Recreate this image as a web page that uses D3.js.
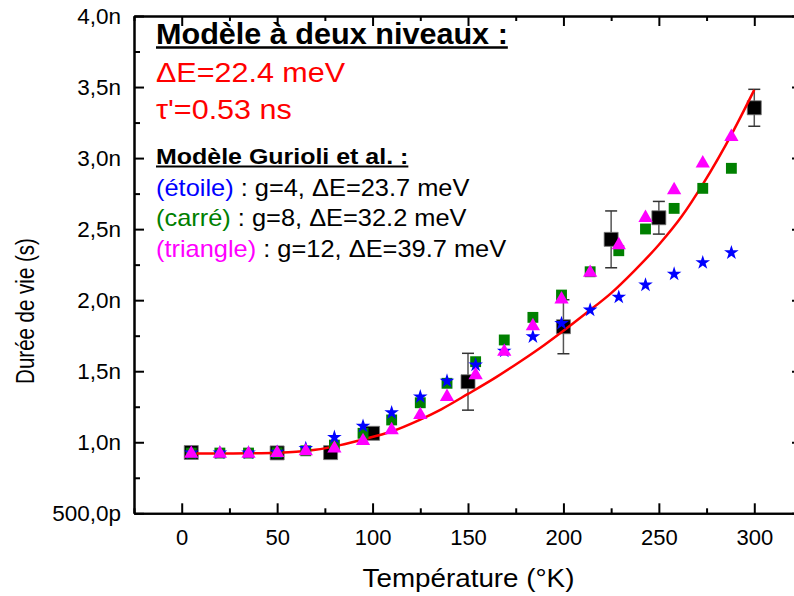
<!DOCTYPE html>
<html><head><meta charset="utf-8">
<script src="https://cdn.jsdelivr.net/npm/d3@7"></script>
<style>
body{margin:0;background:#fff}
svg{display:block}
text{font-family:"Liberation Sans",Arial,sans-serif}
</style>
</head><body>
<svg id="c" width="794" height="596"></svg>
<script>
// ---- data ----
const modelT = [5,20,35,50,65,80,95,110,125,139,154,169,184,199,214,229,243,258,273,288];
const starVals = [0.925,0.925,0.925,0.93,0.957,1.035,1.114,1.208,1.32,1.431,1.544,1.642,1.743,1.837,1.931,2.022,2.107,2.184,2.264,2.334];
const squareVals = [0.924,0.924,0.924,0.926,0.94,0.98,1.063,1.157,1.278,1.415,1.567,1.72,1.879,2.036,2.2,2.348,2.501,2.646,2.787,2.928];
const triangleVals = [0.92,0.92,0.92,0.925,0.937,0.957,1.009,1.086,1.192,1.32,1.473,1.637,1.818,2.006,2.193,2.388,2.58,2.775,2.963,3.15];
const expT = [5,50,78,100,150,200,225,250,300];
const expVals = [0.928,0.925,0.927,1.063,1.426,1.813,2.428,2.58,3.354];
const expErr = [0.02,0.02,0.02,0.03,0.2,0.19,0.2,0.115,0.13];
const fitT = [5,20,35,50,60,70,83,95,109.5,125,136,150,165,177,190,200,212,225,237,250,262,273,289,300];
const fitVals = [0.92,0.92,0.922,0.927,0.934,0.947,0.98,1.02,1.074,1.16,1.232,1.34,1.46,1.565,1.685,1.785,1.91,2.05,2.205,2.39,2.59,2.815,3.19,3.48];
const xTicks = [0,50,100,150,200,250,300];
const xMinor = [-25,25,75,125,175,225,275,325];
const yTicks = [0.5,1.0,1.5,2.0,2.5,3.0,3.5,4.0];
const yTickLabels = ["500,0p","1,0n","1,5n","2,0n","2,5n","3,0n","3,5n","4,0n"];
const yMinor = [0.75,1.25,1.75,2.25,2.75,3.25,3.75];

const svg = d3.select("#c");
const x = d3.scaleLinear([-25,325],[134,802]);
const y = d3.scaleLinear([0.5,4.0],[513.3,16]);

function styleAxis(g){
  g.selectAll("path.domain").attr("stroke","#000").attr("stroke-width",2);
  g.selectAll(".tick line").attr("stroke","#000").attr("stroke-width",2);
}
// bottom
svg.append("g").attr("transform","translate(0,513.3)")
  .call(d3.axisBottom(x).tickValues(xMinor).tickFormat("").tickSizeInner(-5).tickSizeOuter(0)).call(styleAxis);
const gb = svg.append("g").attr("transform","translate(0,513.3)")
  .call(d3.axisBottom(x).tickValues(xTicks).tickFormat(d3.format("d")).tickSizeInner(-10).tickSizeOuter(0).tickPadding(16)).call(styleAxis);
gb.selectAll("text").attr("font-size",22).attr("font-family","Liberation Sans").attr("fill","#000");
// top
svg.append("g").attr("transform","translate(0,16)")
  .call(d3.axisTop(x).tickValues(xMinor).tickFormat("").tickSizeInner(-5).tickSizeOuter(0)).call(styleAxis);
svg.append("g").attr("transform","translate(0,16)")
  .call(d3.axisTop(x).tickValues(xTicks).tickFormat("").tickSizeInner(-10).tickSizeOuter(0)).call(styleAxis);
// left
svg.append("g").attr("transform","translate(134,0)")
  .call(d3.axisLeft(y).tickValues(yMinor).tickFormat("").tickSizeInner(-6).tickSizeOuter(0)).call(styleAxis);
const gl = svg.append("g").attr("transform","translate(134,0)")
  .call(d3.axisLeft(y).tickValues(yTicks).tickFormat((d,i)=>yTickLabels[i]).tickSizeInner(-10).tickSizeOuter(0).tickPadding(13)).call(styleAxis);
gl.selectAll("text").attr("font-size",22.5).attr("font-family","Liberation Sans").attr("fill","#000");
// right
svg.append("g").attr("transform","translate(802,0)")
  .call(d3.axisRight(y).tickValues(yMinor).tickFormat("").tickSizeInner(-6).tickSizeOuter(0)).call(styleAxis);
svg.append("g").attr("transform","translate(802,0)")
  .call(d3.axisRight(y).tickValues(yTicks).tickFormat("").tickSizeInner(-10).tickSizeOuter(0)).call(styleAxis);

// axis titles
svg.append("text").attr("transform","translate(468.5,587) scale(1.09,1)").attr("text-anchor","middle")
  .attr("font-size",25.5).text("Température (°K)");
svg.append("text").attr("transform","translate(33.5,311) rotate(-90) scale(1,1.3)").attr("text-anchor","middle")
  .attr("font-size",20.5).text("Durée de vie (s)");

// experimental squares (black) with error bars
const eg = svg.append("g");
expT.forEach((t,i)=>{
  const cx=x(t), y0=y(expVals[i]-expErr[i]), y1=y(expVals[i]+expErr[i]);
  eg.append("line").attr("x1",cx).attr("x2",cx).attr("y1",y0).attr("y2",y1).attr("stroke","#555").attr("stroke-width",1.5);
  eg.append("line").attr("x1",cx-6).attr("x2",cx+6).attr("y1",y0).attr("y2",y0).attr("stroke","#333").attr("stroke-width",1.5);
  eg.append("line").attr("x1",cx-6).attr("x2",cx+6).attr("y1",y1).attr("y2",y1).attr("stroke","#333").attr("stroke-width",1.5);
});
eg.selectAll("path.exp").data(expT).join("path")
  .attr("d",d3.symbol(d3.symbolSquare,196)())
  .attr("transform",(t,i)=>`translate(${x(t)},${y(expVals[i])})`)
  .attr("fill","#000").attr("stroke","#777").attr("stroke-width",0.8);

// fit curve
svg.append("path").datum(fitT.map((t,i)=>[t,fitVals[i]]))
  .attr("d",d3.line().x(d=>x(d[0])).y(d=>y(d[1])).curve(d3.curveMonotoneX))
  .attr("fill","none").attr("stroke","#ff0000").attr("stroke-width",2.5);

// model series
svg.append("g").selectAll("path").data(modelT).join("path")
  .attr("d",d3.symbol(d3.symbolSquare,118)())
  .attr("transform",(t,i)=>`translate(${x(t)},${y(squareVals[i])})`)
  .attr("fill","#008000");
svg.append("g").selectAll("path").data(modelT).join("path")
  .attr("d",d3.symbol(d3.symbolStar,66)())
  .attr("transform",(t,i)=>`translate(${x(t)},${y(starVals[i])})`)
  .attr("fill","#0000ff");
svg.append("g").selectAll("path").data(modelT).join("path")
  .attr("d",d3.symbol(d3.symbolTriangle,88)())
  .attr("transform",(t,i)=>`translate(${x(t)},${y(triangleVals[i])})`)
  .attr("fill","#ff00ff");

// annotation text
function underlined(txt, xx, yy, size, sx){
  const t = svg.append("text").attr("transform",`translate(${xx},${yy}) scale(${sx},1)`)
    .attr("font-size",size).attr("font-weight","bold").text(txt);
  const w = t.node().getComputedTextLength()*sx;
  svg.append("line").attr("x1",xx).attr("x2",xx+w).attr("y1",yy+size*0.14).attr("y2",yy+size*0.14)
    .attr("stroke","#000").attr("stroke-width",size*0.09);
}
underlined("Modèle à deux niveaux :",156,43.5,29,1.055);
svg.append("text").attr("transform","translate(156,82) scale(1.09,1)").attr("font-size",28).attr("fill","#ff0000").text("\u0394E=22.4 meV");
svg.append("text").attr("transform","translate(156,118.5) scale(1.09,1)").attr("font-size",28).attr("fill","#ff0000").text("\u03C4'=0.53 ns");
underlined("Modèle Gurioli et al. :",156,163.5,22,1.135);
const lines = [["(étoile)","#0000ff"," : g=4, \u0394E=23.7 meV",195.5],
               ["(carré)","#008000"," : g=8, \u0394E=32.2 meV",226],
               ["(triangle)","#ff00ff"," : g=12, \u0394E=39.7 meV",256.5]];
lines.forEach(l=>{
  const t = svg.append("text").attr("transform",`translate(156,${l[3]}) scale(1.105,1)`).attr("font-size",23);
  t.append("tspan").attr("fill",l[1]).text(l[0]);
  t.append("tspan").attr("fill","#000").text(l[2]);
});
</script>
</body></html>
